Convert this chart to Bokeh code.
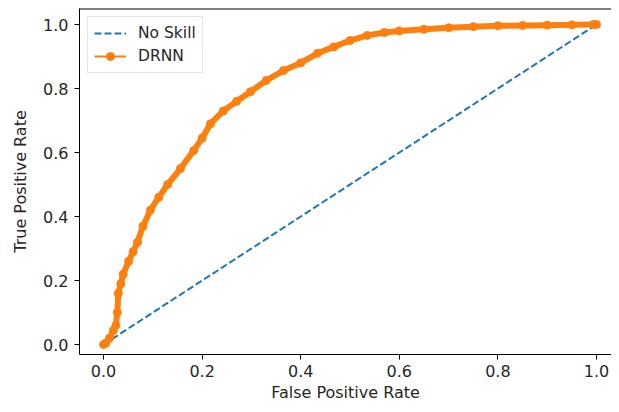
from bokeh.plotting import figure
from bokeh.models import Range1d, FixedTicker, NumeralTickFormatter, Legend, LegendItem, Span
from bokeh.embed import file_html
from bokeh.resources import INLINE

# No-skill diagonal
ns_fpr = [0.0, 1.0]
ns_tpr = [0.0, 1.0]

# DRNN ROC curve
lr_fpr = [0.0, 0.005, 0.012, 0.02, 0.025, 0.028, 0.03, 0.035, 0.04, 0.051, 0.06,
          0.069, 0.08, 0.095, 0.112, 0.13, 0.156, 0.183, 0.2, 0.217, 0.243, 0.27,
          0.298, 0.33, 0.365, 0.4, 0.434, 0.467, 0.5, 0.535, 0.57, 0.6, 0.65, 0.7,
          0.75, 0.8, 0.85, 0.9, 0.95, 0.994, 1.0]
lr_tpr = [0.0, 0.005, 0.02, 0.044, 0.06, 0.1, 0.16, 0.19, 0.22, 0.26, 0.29,
          0.32, 0.37, 0.42, 0.46, 0.50, 0.55, 0.606, 0.645, 0.69, 0.73, 0.76,
          0.79, 0.825, 0.856, 0.88, 0.91, 0.93, 0.95, 0.966, 0.975, 0.98, 0.985, 0.99,
          0.993, 0.996, 0.997, 0.998, 0.999, 1.0, 1.0]

ticks = [0.0, 0.2, 0.4, 0.6, 0.8, 1.0]

FONT = "DejaVu Sans"
FS = "16px"
BLUE = "#1f77b4"
ORANGE = "#ff7f0e"

Y_END = 1.05
p = figure(width=611, height=404, output_backend="svg", toolbar_location=None,
           x_range=Range1d(-0.0487, 1.0304), y_range=Range1d(-0.031, Y_END),
           min_border_left=79, min_border_right=0, min_border_top=8, min_border_bottom=50)

p.xgrid.visible = False
p.ygrid.visible = False
p.outline_line_color = None
p.background_fill_color = "white"
p.border_fill_color = "white"

for ax in (p.xaxis[0], p.yaxis[0]):
    ax.ticker = FixedTicker(ticks=ticks)
    ax.formatter = NumeralTickFormatter(format="0.0")
    ax.minor_tick_line_color = None
    ax.major_tick_in = 0
    ax.major_tick_out = 5
    ax.major_tick_line_color = "black"
    ax.axis_line_color = "black"
    ax.major_label_text_font = FONT
    ax.major_label_text_font_size = FS
    ax.major_label_text_color = "#262626"
    ax.axis_label_text_font = FONT
    ax.axis_label_text_font_size = FS
    ax.axis_label_text_font_style = "normal"
    ax.axis_label_text_color = "#262626"

p.xaxis.axis_label = "False Positive Rate"
p.yaxis.axis_label = "True Positive Rate"
p.xaxis.major_label_standoff = 5
p.xaxis.axis_label_standoff = 3
p.yaxis.major_label_standoff = 6
p.yaxis.axis_label_standoff = 10

# top spine (the right spine lies outside the cropped reference)
p.add_layout(Span(location=Y_END, dimension="width", line_color="black", line_width=2))

r_ns = p.line(ns_fpr, ns_tpr, line_color=BLUE, line_width=2, line_dash="7 3")
p.line(lr_fpr, lr_tpr, line_color=ORANGE, line_width=6)
p.scatter(lr_fpr, lr_tpr, size=8, fill_color=ORANGE, line_color=ORANGE)

# legend swatches (thin line with small dot, as in the reference legend); hidden under the band
leg_line = p.line(lr_fpr, lr_tpr, line_color=ORANGE, line_width=2)
leg_dot = p.scatter(lr_fpr, lr_tpr, size=4, fill_color=ORANGE, line_color=ORANGE)

legend = Legend(items=[LegendItem(label="No Skill", renderers=[r_ns]),
                       LegendItem(label="DRNN", renderers=[leg_line, leg_dot])],
                location="top_left")
legend.margin = 8
legend.padding = 6
legend.spacing = 3
legend.glyph_width = 32
legend.glyph_height = 20
legend.label_height = 20
legend.label_standoff = 12
legend.label_text_font = FONT
legend.label_text_font_size = "15.5px"
legend.label_text_color = "#262626"
legend.border_line_color = "#cccccc"
legend.background_fill_alpha = 0.8
p.add_layout(legend)

open("out.html", "w").write(file_html(p, INLINE))
